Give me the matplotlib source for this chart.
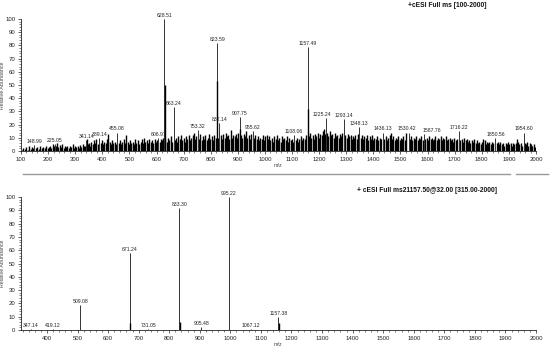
import matplotlib
matplotlib.use("Agg")
import matplotlib.pyplot as plt
from matplotlib.lines import Line2D
from matplotlib.ticker import MultipleLocator

plt.rcParams['font.family'] = ['Liberation Sans', 'DejaVu Sans']

# ---------------- Top spectrum (full MS) ----------------
top_title = "+cESI Full ms [100-2000]"
top_lab_mz = [148.99, 225.05, 341.14, 389.14, 455.08, 606.97, 628.51, 663.24,
              753.32, 823.59, 832.14, 907.75, 955.62, 1108.06, 1157.49, 1225.24,
              1293.14, 1348.13, 1436.13, 1530.42, 1587.76, 1716.22, 1850.56, 1954.60]
top_lab_int = [4.5, 5.5, 8, 10, 14, 10, 100, 33,
               16, 82, 21, 26, 15, 12, 79, 25,
               24, 18, 14, 14, 13, 15, 10, 14]
top_lab_txt = ["148.99", "225.05", "341.14", "389.14", "455.08", "606.97", "628.51", "663.24",
               "753.32", "823.59", "832.14", "907.75", "955.62", "1108.06", "1157.49", "1225.24",
               "1293.14", "1348.13", "1436.13", "1530.42", "1587.76", "1716.22", "1850.56", "1954.60"]
top_iso_mz = [629.5, 824.6, 908.8, 1158.5]
top_iso_int = [50, 53, 17, 32]

top_bg_mz = [
    102, 108, 113, 119, 124, 131, 136, 141, 146, 155,
    160, 166, 171, 177, 182, 188, 193, 198, 203, 208,
    212, 217, 221, 229, 234, 238, 243, 247, 252, 257,
    262, 266, 271, 276, 281, 285, 290, 295, 300, 304,
    309, 314, 319, 323, 328, 333, 337, 343, 346, 350,
    355, 360, 364, 369, 373, 378, 383, 394, 398, 403,
    408, 412, 417, 422, 427, 432, 436, 441, 446, 450,
    460, 465, 469, 474, 479, 484, 488, 493, 498, 503,
    507, 512, 517, 522, 526, 531, 536, 541, 545, 550,
    555, 559, 564, 569, 574, 578, 583, 588, 593, 597,
    602, 611, 616, 620, 625, 633, 638, 643, 647, 652,
    657, 667, 672, 676, 681, 686, 690, 695, 700, 705,
    709, 714, 719, 723, 728, 733, 737, 742, 747, 757,
    762, 766, 771, 776, 780, 785, 790, 794, 799, 804,
    808, 813, 818, 828, 837, 841, 846, 851, 855, 860,
    865, 869, 874, 879, 883, 888, 893, 897, 902, 912,
    917, 921, 926, 931, 935, 940, 945, 950, 960, 964,
    969, 974, 978, 983, 988, 992, 997, 1002, 1006, 1011,
    1016, 1020, 1025, 1030, 1034, 1039, 1044, 1048, 1053, 1058,
    1062, 1067, 1072, 1076, 1081, 1086, 1090, 1095, 1100, 1104,
    1113, 1118, 1122, 1127, 1132, 1136, 1141, 1146, 1150, 1162,
    1167, 1171, 1176, 1181, 1185, 1190, 1195, 1199, 1204, 1209,
    1213, 1218, 1222, 1230, 1234, 1239, 1244, 1248, 1253, 1258,
    1262, 1267, 1272, 1276, 1281, 1286, 1297, 1302, 1306, 1311,
    1316, 1320, 1325, 1330, 1334, 1339, 1344, 1353, 1358, 1362,
    1367, 1372, 1376, 1381, 1386, 1390, 1395, 1400, 1404, 1409,
    1414, 1418, 1423, 1428, 1441, 1446, 1450, 1455, 1460, 1464,
    1469, 1474, 1478, 1483, 1488, 1492, 1497, 1502, 1506, 1511,
    1516, 1522, 1535, 1540, 1544, 1549, 1554, 1558, 1563, 1568,
    1572, 1577, 1582, 1592, 1597, 1601, 1606, 1611, 1615, 1620,
    1625, 1629, 1634, 1639, 1643, 1648, 1653, 1657, 1662, 1667,
    1671, 1676, 1681, 1685, 1690, 1695, 1699, 1704, 1709, 1721,
    1726, 1730, 1735, 1740, 1744, 1749, 1754, 1758, 1763, 1768,
    1772, 1777, 1782, 1786, 1791, 1796, 1800, 1805, 1810, 1814,
    1819, 1824, 1828, 1833, 1838, 1842, 1855, 1860, 1864, 1869,
    1874, 1878, 1883, 1888, 1892, 1897, 1902, 1906, 1911, 1916,
    1920, 1925, 1930, 1934, 1939, 1944, 1949, 1958, 1963, 1968,
    1972, 1977, 1982, 1986, 1991, 1996,
]
top_bg_int = [
    1, 2, 1.5, 3, 1, 4, 1.5, 3, 2, 2,
    3, 1.5, 3.5, 2, 3, 2.5, 4, 2, 3, 4,
    2.5, 5, 3.5, 4, 6, 3, 4.5, 3, 5, 2.5,
    4, 3, 3.5, 2, 4, 3, 5, 2.5, 4, 3,
    3.5, 2, 4.5, 3, 5, 3.5, 4, 9, 5, 6,
    4, 7, 5, 8, 6, 9, 5, 6, 8, 5,
    7, 6, 9, 13, 7, 5, 8, 6, 7, 5,
    6, 8, 5, 7, 9, 6, 12, 7, 5, 8,
    6, 7, 5, 9, 6, 8, 5, 7, 9, 6,
    10, 7, 8, 6, 9, 7, 8, 6, 9, 7,
    8, 7, 9, 8, 10, 9, 7, 10, 8, 11,
    7, 8, 10, 7, 11, 9, 12, 8, 10, 7,
    11, 9, 12, 8, 10, 12, 14, 9, 11, 9,
    13, 8, 11, 9, 12, 8, 10, 13, 9, 11,
    8, 12, 10, 10, 12, 9, 13, 10, 14, 11,
    12, 9, 16, 10, 12, 11, 13, 10, 14, 12,
    10, 13, 11, 15, 10, 12, 9, 13, 10, 12,
    9, 11, 8, 10, 9, 12, 8, 11, 12, 9,
    11, 8, 10, 7, 11, 9, 12, 8, 10, 7,
    11, 9, 10, 8, 11, 7, 10, 8, 9, 7,
    8, 10, 7, 9, 11, 8, 10, 9, 12, 11,
    14, 10, 12, 9, 13, 11, 14, 10, 13, 12,
    15, 17, 13, 14, 11, 15, 12, 13, 10, 14,
    11, 12, 10, 13, 11, 14, 12, 10, 13, 11,
    12, 9, 11, 10, 12, 9, 13, 10, 12, 9,
    11, 10, 12, 8, 11, 9, 12, 8, 10, 9,
    11, 8, 10, 9, 9, 11, 8, 10, 12, 14,
    9, 11, 8, 10, 9, 11, 8, 10, 9, 11,
    8, 14, 9, 11, 8, 10, 9, 11, 8, 10,
    9, 11, 8, 9, 10, 8, 11, 9, 10, 8,
    9, 11, 8, 10, 9, 11, 8, 10, 9, 11,
    8, 9, 10, 8, 9, 7, 10, 8, 9, 8,
    9, 7, 10, 8, 9, 7, 8, 6, 8, 7,
    9, 6, 8, 6, 7, 5, 7, 9, 8, 5,
    7, 6, 7, 5, 7, 6, 6, 7, 5, 7,
    5, 6, 4, 6, 5, 7, 5, 6, 4, 6,
    5, 6, 9, 7, 5, 6, 4, 6, 5, 7,
    4, 6, 5, 4, 5, 3,
]

# ---------------- Bottom spectrum (MS2) ----------------
bot_title = "+ cESI Full ms21157.50@32.00 [315.00-2000]"
bot_lab_mz = [347.14, 419.12, 509.08, 671.24, 731.05, 833.30, 905.48, 995.22, 1067.12, 1157.38]
bot_lab_int = [1, 0.6, 19, 58, 0.8, 92, 2, 100, 1, 10]
bot_lab_txt = ["347.14", "419.12", "509.08", "671.24", "731.05", "833.30", "905.48",
               "995.22", "1067.12", "1157.38"]
bot_iso_mz = [672.2, 834.3, 1158.4]
bot_iso_int = [5, 6, 5]

top_xticks = [100, 200, 300, 400, 500, 600, 700, 800, 900, 1000,
              1100, 1200, 1300, 1400, 1500, 1600, 1700, 1800, 1900, 2000]
bot_xticks = [400, 500, 600, 700, 800, 900, 1000, 1100, 1200,
              1300, 1400, 1500, 1600, 1700, 1800, 1900, 2000]
yticks = [0, 10, 20, 30, 40, 50, 60, 70, 80, 90, 100]

# horizontal nudges (in points) for crowded peak labels
label_nudge = {"1587.76": 5.5, "1530.42": -1.0, "1225.24": -3.0}

W, H = 550, 351
fig = plt.figure(figsize=(W / 100, H / 100), dpi=100)
fig.patch.set_facecolor('white')

def px_rect(x0, y0, x1, y1):
    return [x0 / W, 1 - y1 / H, (x1 - x0) / W, (y1 - y0) / H]

ax1 = fig.add_axes(px_rect(21, 19, 536, 151))
ax2 = fig.add_axes(px_rect(21, 197, 536, 330))

def style(ax, xlim, xticks):
    ax.set_xlim(*xlim)
    ax.set_ylim(0, 100)
    for s in ['top', 'right']:
        ax.spines[s].set_visible(False)
    for s in ['left', 'bottom']:
        ax.spines[s].set_linewidth(0.6)
        ax.spines[s].set_color('#222222')
    ax.set_xticks(xticks)
    ax.set_yticks(yticks)
    ax.xaxis.set_minor_locator(MultipleLocator(20))
    ax.yaxis.set_minor_locator(MultipleLocator(2))
    ax.tick_params(axis='both', which='major', length=2.5, width=0.5,
                   labelsize=4.3, colors='#222222', pad=1.5)
    ax.tick_params(axis='both', which='minor', length=1.3, width=0.4, colors='#222222')
    ax.set_ylabel("Relative Abundance", fontsize=3.8, color='#444444')
    ax.yaxis.set_label_coords(-0.031, 0.5)
    ax.set_xlabel("m/z", fontsize=3.8, color='#444444', labelpad=1)
    ax.set_facecolor('none')

style(ax1, (100, 2000), top_xticks)
style(ax2, (315, 2000), bot_xticks)

def label_peaks(ax, mzs, ints, txts):
    for m, i, t in zip(mzs, ints, txts):
        ax.annotate(t, xy=(m, i), xytext=(label_nudge.get(t, 0), 0.8),
                    textcoords='offset points', ha='center', va='bottom',
                    fontsize=3.7, color='#222222', annotation_clip=False)

# top spectrum
ax1.vlines(top_bg_mz, 0, top_bg_int, color='black', lw=1.0)
ax1.vlines(top_lab_mz, 0, top_lab_int, color='#333333', lw=0.7)
ax1.vlines(top_iso_mz, 0, top_iso_int, color='black', lw=1.0)
label_peaks(ax1, top_lab_mz, top_lab_int, top_lab_txt)

# bottom spectrum
ax2.vlines(bot_lab_mz, 0, bot_lab_int, color='#333333', lw=0.7)
ax2.vlines(bot_iso_mz, 0, bot_iso_int, color='black', lw=1.0)
label_peaks(ax2, bot_lab_mz, bot_lab_int, bot_lab_txt)

fig.text(447 / W, 1 - 5.5 / H, top_title, ha='center', va='center',
         fontsize=4.8, fontweight='bold', color='#111111')
fig.text(427 / W, 1 - 190 / H, bot_title, ha='center', va='center',
         fontsize=4.8, fontweight='bold', color='#111111')

# separator lines
fig.add_artist(Line2D([23 / W, 509.5 / W], [1 - 174 / H, 1 - 174 / H],
                      color='#999999', lw=1.0, transform=fig.transFigure))
fig.add_artist(Line2D([516 / W, 547.5 / W], [1 - 174 / H, 1 - 174 / H],
                      color='#999999', lw=1.0, transform=fig.transFigure))

fig.savefig("out.png", dpi=100, facecolor='white')
